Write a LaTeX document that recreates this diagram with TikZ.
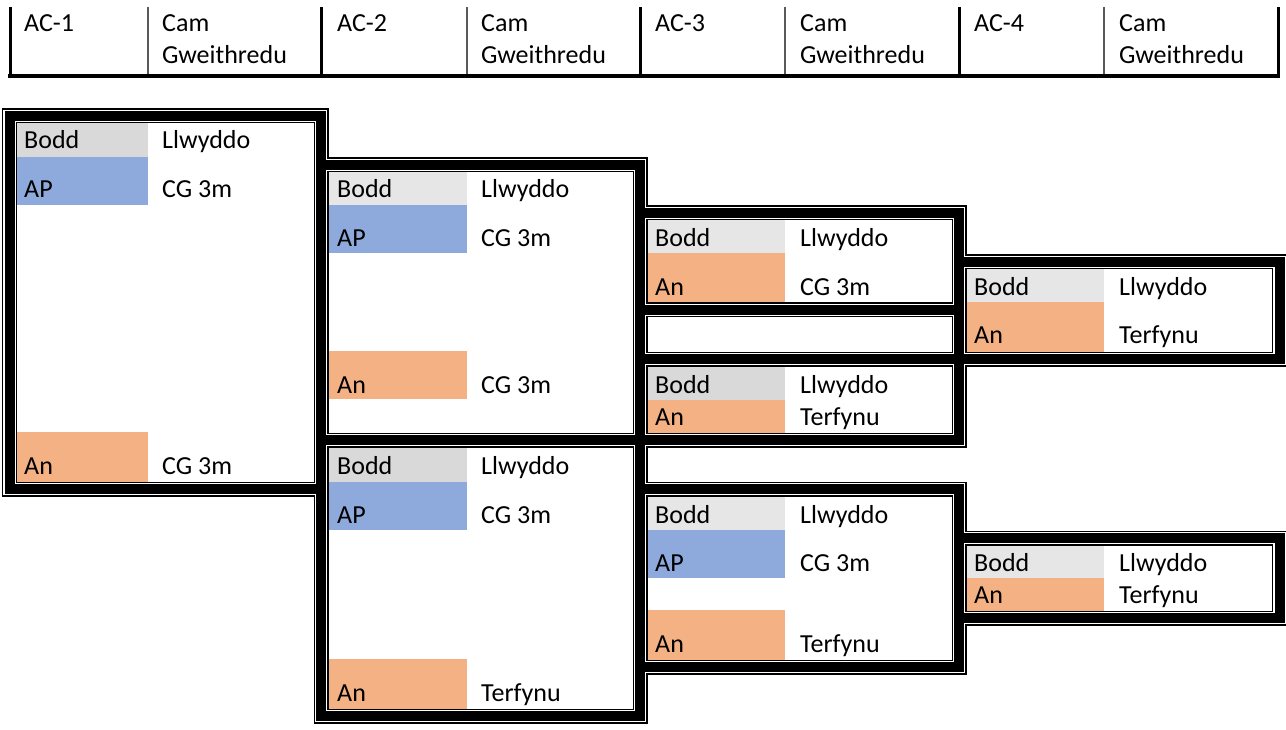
\documentclass[tikz,border=0pt]{standalone}
\usepackage{fontspec}
\setmainfont{Carlito}
\definecolor{gA}{HTML}{D9D9D9}
\definecolor{gB}{HTML}{E7E6E6}
\definecolor{bl}{HTML}{8EA9DB}
\definecolor{orng}{HTML}{F4B183}
\tikzset{
  txt/.style={anchor=base west, inner sep=0pt, font=\fontsize{26}{31}\selectfont},
  hthick/.style={line width=3pt, black},
  hthin/.style={line width=1.5pt, black!65}
}
\begin{document}
\begin{tikzpicture}[x=1pt,y=-1pt]
\useasboundingbox (0,0) rectangle (1286,730);
\fill[white] (0,0) rectangle (1286,730);

% ---------- header ----------
\foreach \x in {10,321,640,959,1278} \draw[hthick] (\x,7) -- (\x,76);
\foreach \x in {148,467,785,1104} \draw[hthin] (\x,7) -- (\x,76);
\draw[line width=4pt] (8,76) -- (1280,76);
\node[txt] (h1) at (24,32) {AC-1};
\node[txt] (h2) at (337,32) {AC-2};
\node[txt] (h3) at (655,32) {AC-3};
\node[txt] (h4) at (974,32) {AC-4};
\foreach \x/\n in {162/a,481/b,800/c,1119/d}{
  \node[txt] (cam\n) at (\x,32) {Cam};
  \node[txt] (gw\n) at (\x,64) {Gweithredu};
}

% ---------- cell fills ----------
% box 1
\fill[gA] (10,116) rectangle (148,157);
\fill[bl] (10,157) rectangle (148,205);
\fill[orng] (10,432) rectangle (148,482);
% box 2
\fill[gB] (321,165) rectangle (467,205);
\fill[bl] (321,205) rectangle (467,253);
\fill[orng] (321,351) rectangle (467,399);
% box 3
\fill[gB] (640,213) rectangle (785,253);
\fill[orng] (640,253) rectangle (785,303);
% box 3b
\fill[gA] (640,359) rectangle (785,400);
\fill[orng] (640,400) rectangle (785,433);
% box 4
\fill[gB] (959,262) rectangle (1104,302);
\fill[orng] (959,302) rectangle (1104,352);
% box 2b
\fill[gA] (321,440) rectangle (467,482);
\fill[bl] (321,482) rectangle (467,530);
\fill[orng] (321,659) rectangle (467,709);
% box 3c
\fill[gB] (640,489) rectangle (785,530);
\fill[bl] (640,530) rectangle (785,578);
\fill[orng] (640,610) rectangle (785,660);
% box 4b
\fill[gB] (959,538) rectangle (1104,578);
\fill[orng] (959,578) rectangle (1104,611);

% ---------- thick framed borders ----------
\foreach \w/\c in {15/black,12.5/white,10/black}{
  \foreach \xa/\ya/\xb/\yb in {9.5/116/321/489, 321/165/640/440, 640/213/959/310,
      640/310/959/359, 640/359/959/440, 959/262/1279.5/359, 321/440/640/716,
      640/489/959/667, 959/538/1279.5/618}{
    \draw[line width=\w pt, draw=\c] (\xa,\ya) rectangle (\xb,\yb);
  }
}

% ---------- cell texts ----------
% box 1
\node[txt] (t1a) at (24,149) {Bodd};
\node[txt] (t1b) at (162,149) {Llwyddo};
\node[txt] (t1c) at (24,198) {AP};
\node[txt] (t1d) at (162,198) {CG 3m};
\node[txt] (t1e) at (24,474) {An};
\node[txt] (t1f) at (162,474) {CG 3m};
% box 2
\node[txt] (t2a) at (337,198) {Bodd};
\node[txt] (t2b) at (481,198) {Llwyddo};
\node[txt] (t2c) at (337,247) {AP};
\node[txt] (t2d) at (481,247) {CG 3m};
\node[txt] (t2e) at (337,393) {An};
\node[txt] (t2f) at (481,393) {CG 3m};
% box 3
\node[txt] (t3a) at (655,247) {Bodd};
\node[txt] (t3b) at (800,247) {Llwyddo};
\node[txt] (t3c) at (655,296) {An};
\node[txt] (t3d) at (800,296) {CG 3m};
% box 3b
\node[txt] (t3e) at (655,393) {Bodd};
\node[txt] (t3f) at (800,393) {Llwyddo};
\node[txt] (t3g) at (655,425) {An};
\node[txt] (t3h) at (800,425) {Terfynu};
% box 4
\node[txt] (t4a) at (974,296) {Bodd};
\node[txt] (t4b) at (1119,296) {Llwyddo};
\node[txt] (t4c) at (974,344) {An};
\node[txt] (t4d) at (1119,344) {Terfynu};
% box 2b
\node[txt] (t5a) at (337,474) {Bodd};
\node[txt] (t5b) at (481,474) {Llwyddo};
\node[txt] (t5c) at (337,523) {AP};
\node[txt] (t5d) at (481,523) {CG 3m};
\node[txt] (t5e) at (337,701) {An};
\node[txt] (t5f) at (481,701) {Terfynu};
% box 3c
\node[txt] (t6a) at (655,523) {Bodd};
\node[txt] (t6b) at (800,523) {Llwyddo};
\node[txt] (t6c) at (655,571) {AP};
\node[txt] (t6d) at (800,571) {CG 3m};
\node[txt] (t6e) at (655,652) {An};
\node[txt] (t6f) at (800,652) {Terfynu};
% box 4b
\node[txt] (t7a) at (974,571) {Bodd};
\node[txt] (t7b) at (1119,571) {Llwyddo};
\node[txt] (t7c) at (974,603) {An};
\node[txt] (t7d) at (1119,603) {Terfynu};
\end{tikzpicture}
\end{document}
